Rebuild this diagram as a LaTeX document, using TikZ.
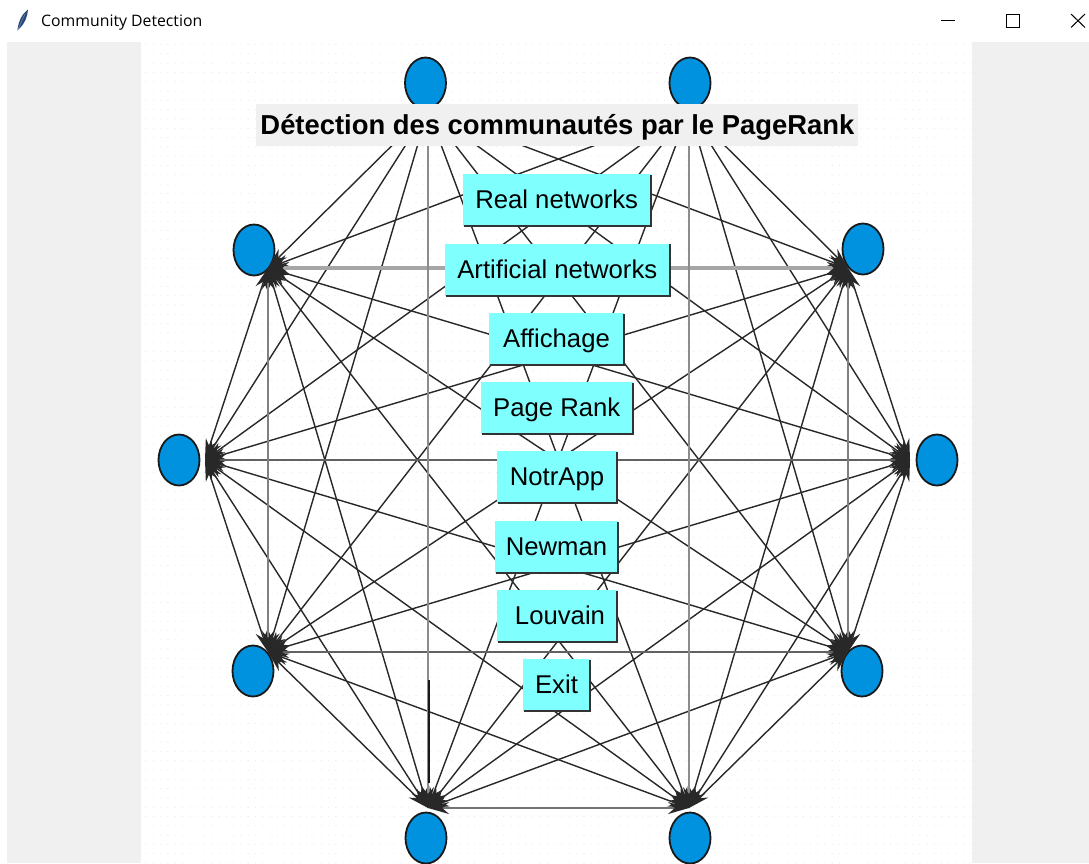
\documentclass[tikz,border=0pt]{standalone}
\usepackage{fontspec}
\setmainfont{Liberation Sans}
\newfontfamily\uifont{Open Sans}
\usetikzlibrary{arrows.meta,shapes.geometric,patterns.meta}

\definecolor{nodeblue}{RGB}{0,146,222}
\definecolor{btncyan}{RGB}{128,255,255}
\definecolor{winbg}{RGB}{240,240,240}
\definecolor{edgegray}{RGB}{40,40,40}
\definecolor{quill}{RGB}{40,72,120}

% faint dotted paper texture of the canvas
\tikzdeclarepattern{
  name=paperdots, type=uncolored,
  bottom left={(-1pt,-1pt)}, top right={(6.3pt,8.3pt)},
  tile size={(7.3pt,9.3pt)},
  code={\pgfpathcircle{\pgfpointorigin}{0.55pt}\pgfusepath{fill}}
}

\begin{document}
\begin{tikzpicture}[x=1pt,y=-1pt,
  vertex/.style={ellipse, draw=black!90, line width=1.8pt, fill=nodeblue,
    minimum width=41pt, minimum height=51pt, inner sep=0pt},
  edge/.style={draw=edgegray, line width=1.4pt,
    {Stealth[length=21pt,width=12pt,color=edgegray]}-{Stealth[length=21pt,width=12pt,color=edgegray]}},
  axisedge/.style={edge, draw=black!50, line width=1.7pt},
  button/.style={rectangle, fill=btncyan, inner sep=0pt,
    font=\fontsize{25.7pt}{30pt}\selectfont, text height=23.3pt, text depth=5.4pt},
  btnshade/.style={draw=black!80, line width=1.6pt},
  winbtn/.style={draw=black, line width=1pt}
]
\useasboundingbox (0,0) rectangle (1089,863);

% window frame
\fill[white] (0,0) rectangle (1089,863);
\fill[winbg] (7,42) rectangle (1089,863);
\fill[white] (141,42) rectangle (972,863);
\fill[pattern=paperdots, pattern color=black!9] (141,42) rectangle (972,863);

% title bar
\fill[quill] (17.5,30) .. controls (18.5,21) and (22,14) .. (28,9.5)
  .. controls (27.5,17) and (24.5,24) .. (19,29) -- cycle;
\draw[quill!60, line width=0.5pt] (17.5,30.5) -- (25,14);
\node[anchor=base west, inner sep=0pt, font=\uifont\fontsize{15.8pt}{18pt}\selectfont]
  (wintitle) at (41,26.5) {Community Detection};
\draw[winbtn] (941,20) -- (955,20);
\draw[winbtn] (1006.5,14.5) rectangle (1019,27);
\draw[winbtn] (1071,14) -- (1085,27.5) (1071,27.5) -- (1085,14);

% graph vertices and the points where their arcs meet
\foreach \k/\vx/\vy/\ax/\ay in {
  1/425.5/83/428/110, 2/690/83/689/110, 3/863/249/848/268,
  4/937/460/910/460, 5/862/671/848/652, 6/690/838/689/808,
  7/426/838/428/808, 8/253/671/268/652, 9/179/460/205/460,
  10/254/250/268/268}{
  \node[vertex] (v\k) at (\vx,\vy) {};
  \coordinate (a\k) at (\ax,\ay);
}

% oblique arcs (both directions on every pair)
\foreach \i/\j in {1/3,1/4,1/5,1/6,1/8,1/9,1/10,
  2/3,2/4,2/5,2/7,2/8,2/9,2/10,
  3/4,3/6,3/7,3/8,3/9,
  4/5,4/6,4/7,4/8,4/10,
  5/6,5/7,5/9,5/10,
  6/8,6/9,6/10,
  7/8,7/9,7/10,
  8/9, 9/10}
  \draw[edge] (a\i) -- (a\j);

% horizontal and vertical arcs
\draw[axisedge] (a1) -- (a2);
\draw[axisedge, draw=black!35, line width=3.6pt] (a10) -- (a3);
\draw[axisedge, draw=black!62] (a9) -- (a4);
\draw[axisedge, draw=black!62] (a8) -- (a5);
\draw[axisedge, draw=black!55] (a7) -- (a6);
\draw[axisedge, draw=black!45, line width=1.3pt] (a1) -- (a7);
\draw[axisedge, draw=black!45, line width=1.3pt] (a2) -- (a6);
\draw[axisedge] (a10) -- (a8);
\draw[axisedge] (a3) -- (a5);
\coordinate (seg) at (429,680);
\draw[draw=black!90, line width=1.2pt] (seg) -- ([xshift=1pt,yshift=25pt]a7);

% heading
\node[fill=winbg, minimum width=602pt, minimum height=42pt, inner sep=0pt,
  font=\bfseries\fontsize{27.4pt}{32pt}\selectfont,
  text height=24.8pt, text depth=5.8pt] (heading) at (557.4,125)
  {Détection des communautés par le PageRank};

% menu buttons
\foreach \n/\cx/\cy/\w/\txt in {
  real/556.7/200/188/Real networks,
  artif/557.3/269.5/225/Artificial networks,
  show/556.5/339/135/Affichage,
  prank/556.7/408/152/Page Rank,
  notr/557/477/120/NotrApp,
  newman/556.5/547/123/Newman,
  louvain/557/616/120/\hspace*{6pt}Louvain,
  exit/556.5/685/67/Exit}{
  \node[button, minimum width=\w pt, minimum height=52pt] (b-\n) at (\cx,\cy) {\txt};
  \draw[btnshade] ([xshift=1pt]b-\n.south west) -- (b-\n.south east) -- ([yshift=-1pt]b-\n.north east);
}
\end{tikzpicture}
\end{document}
